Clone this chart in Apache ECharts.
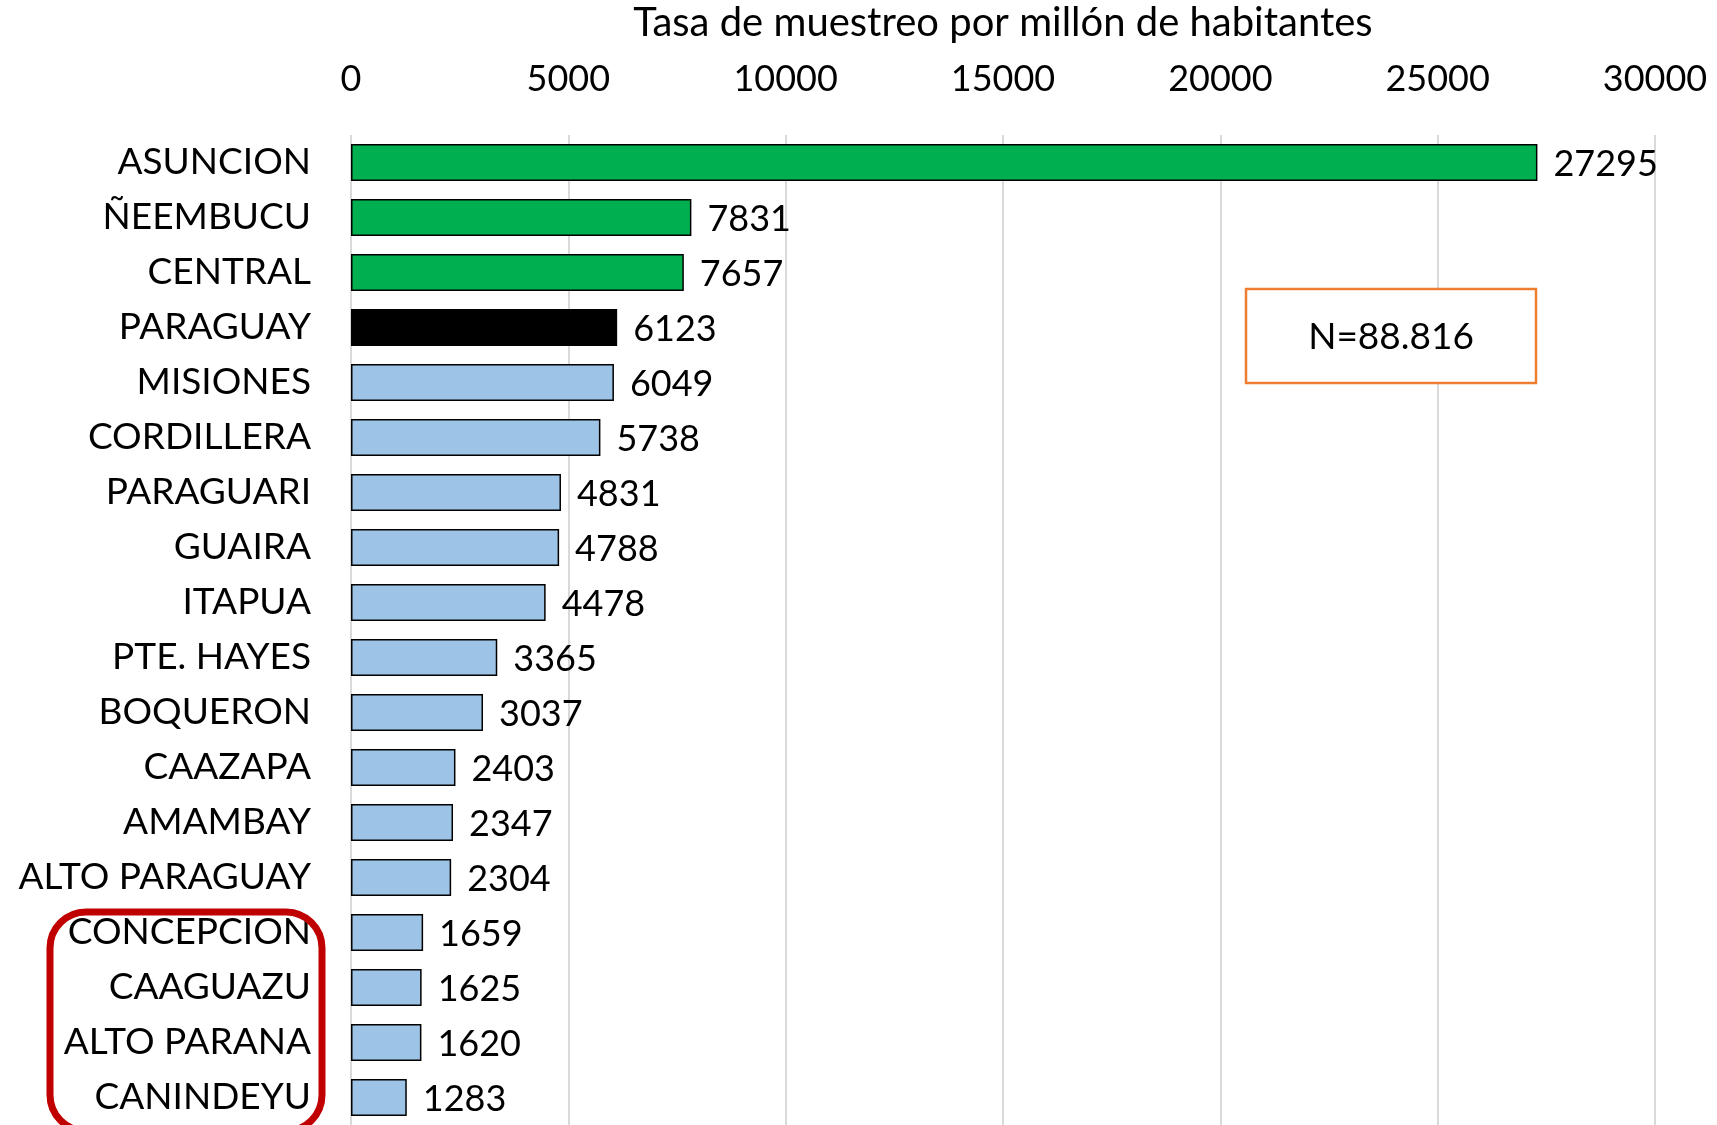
<!DOCTYPE html>
<html>
<head>
<meta charset="utf-8">
<script src="https://cdn.jsdelivr.net/npm/echarts@6/dist/echarts.min.js"></script>
<style>
html,body{margin:0;padding:0;background:#fff;}
#chart{width:1717px;height:1125px;}
</style>
</head>
<body>
<div id="chart"></div>
<script>
const categories = ['ASUNCION','ÑEEMBUCU','CENTRAL','PARAGUAY','MISIONES','CORDILLERA','PARAGUARI','GUAIRA','ITAPUA','PTE. HAYES','BOQUERON','CAAZAPA','AMAMBAY','ALTO PARAGUAY','CONCEPCION','CAAGUAZU','ALTO PARANA','CANINDEYU'];
const values = [27295,7831,7657,6123,6049,5738,4831,4788,4478,3365,3037,2403,2347,2304,1659,1625,1620,1283];
const groups = ['top','top','top','country','dept','dept','dept','dept','dept','dept','dept','dept','dept','dept','dept','dept','dept','dept'];
const axisTicks = [0,5000,10000,15000,20000,25000,30000];
const titleText = 'Tasa de muestreo por millón de habitantes';
const noteText = 'N=88.816';

const groupColors = {top:'#00b050', country:'#000000', dept:'#9dc3e6'};
const FONT = 'Lato';

const chart = echarts.init(document.getElementById('chart'), null, {renderer:'canvas'});
const option = {
  backgroundColor:'#ffffff',
  animation:false,
  title:{
    text:titleText,
    left:1003, top:3, textAlign:'center', padding:0,
    textStyle:{fontFamily:FONT, fontSize:40, fontWeight:'normal', color:'#000'}
  },
  grid:{left:351, right:62, top:135, bottom:0, containLabel:false},
  xAxis:{
    type:'value', position:'top',
    min:axisTicks[0], max:axisTicks[axisTicks.length-1], interval:axisTicks[1]-axisTicks[0],
    axisLine:{show:false}, axisTick:{show:false},
    axisLabel:{fontFamily:FONT, fontSize:36, color:'#000', margin:38, formatter:(v)=>String(v)},
    splitLine:{show:true, lineStyle:{color:'#d9d9d9', width:2}}
  },
  yAxis:{
    type:'category', inverse:true, data:categories,
    axisLine:{show:false}, axisTick:{show:false},
    axisLabel:{fontFamily:FONT, fontSize:37, color:'#000', margin:40}
  },
  series:[{
    type:'bar',
    barWidth:37,
    data:values.map((v,i)=>({value:v, itemStyle:{color:groupColors[groups[i]]}})),
    itemStyle:{borderColor:'#000', borderWidth:1.5},
    label:{show:true, position:'right', distance:16, offset:[0,2], fontFamily:FONT, fontSize:36, color:'#000'}
  }],
  graphic:[
    {type:'rect', shape:{x:1246, y:289, width:290, height:94}, style:{fill:'#fff', stroke:'#ed7d31', lineWidth:2.5}, z:10},
    {type:'text', x:1391, y:337, style:{text:noteText, fontFamily:FONT, fontSize:37, fill:'#000', align:'center', verticalAlign:'middle'}, z:11},
    {type:'rect', shape:{x:50, y:912, width:272, height:219, r:36}, style:{fill:'none', stroke:'#c00000', lineWidth:7}, z:10}
  ]
};
chart.setOption(option);
</script>
</body>
</html>
